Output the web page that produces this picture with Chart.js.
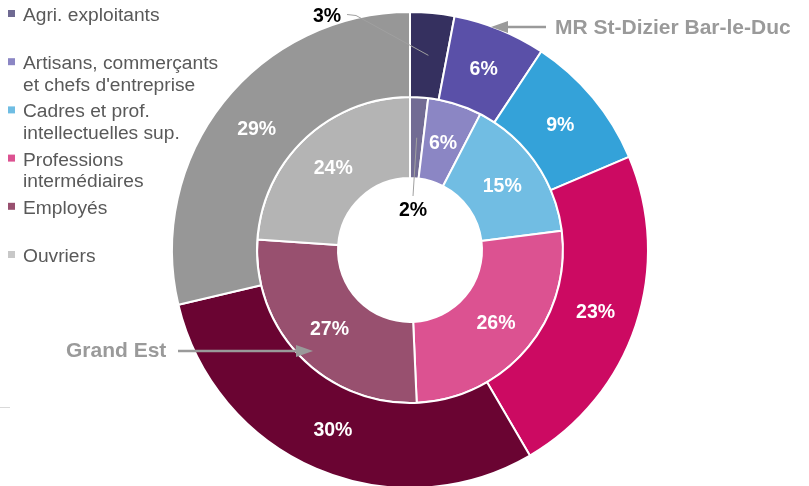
<!DOCTYPE html>
<html>
<head>
<meta charset="utf-8">
<script src="https://cdn.jsdelivr.net/npm/chart.js@4/dist/chart.umd.min.js"></script>
<style>
    html, body { margin: 0; padding: 0; background: #fff; }
    #wrap { position: relative; width: 809px; height: 486px; }
</style>
</head>
<body>
<div id="wrap"><canvas id="pieChart" width="809" height="486"></canvas></div>
<script>
// Data
const categories = [
    'Agri. exploitants',
    'Artisans, commerçants\net chefs d\'entreprise',
    'Cadres et prof.\nintellectuelles sup.',
    'Professions\nintermédiaires',
    'Employés',
    'Ouvriers'
];
const seriesNames = ['MR St-Dizier Bar-le-Duc', 'Grand Est'];
const mrValues = [3.0, 6.3, 9.3, 23.0, 29.7, 28.7];   // outer ring
const geValues = [1.9, 5.7, 15.4, 26.3, 26.8, 23.9];  // inner ring

const mrColors = ['#35305f', '#5a50a8', '#34a2d9', '#cc0a62', '#6a0432', '#979797'];
const geColors = ['#726c94', '#8b86c4', '#71bde3', '#dc5291', '#98506f', '#b4b4b4'];
const legendColors = ['#6f6a92', '#8b86c4', '#6fbde3', '#dc5291', '#98506f', '#c8c8c8'];

const FONT = '"Liberation Sans", Arial, sans-serif';

function arrow(ctx, x1, y, x2, color) {
    // horizontal arrow from x1 to tip x2
    const dir = x2 > x1 ? 1 : -1;
    ctx.strokeStyle = color;
    ctx.fillStyle = color;
    ctx.lineWidth = 2.5;
    ctx.beginPath();
    ctx.moveTo(x1, y);
    ctx.lineTo(x2 - dir * 14, y);
    ctx.stroke();
    ctx.beginPath();
    ctx.moveTo(x2, y);
    ctx.lineTo(x2 - dir * 17, y - 6);
    ctx.lineTo(x2 - dir * 17, y + 6);
    ctx.closePath();
    ctx.fill();
}

// Slice labels, legend and series annotations
const decorPlugin = {
    id: 'decor',
    afterDraw(chart) {
        const ctx = chart.ctx;
        ctx.save();
        ctx.font = 'bold 19.5px ' + FONT;
        ctx.textAlign = 'center';
        ctx.textBaseline = 'middle';

        chart.data.datasets.forEach((ds, di) => {
            const meta = chart.getDatasetMeta(di);
            meta.data.forEach((arc, i) => {
                const v = ds.data[i];
                const txt = Math.round(v) + '%';
                const p = arc.getCenterPoint();
                if (v < 4) {
                    // small slice: label outside with a leader line
                    ctx.strokeStyle = '#a0a0a0';
                    ctx.lineWidth = 1;
                    ctx.fillStyle = '#000';
                    ctx.beginPath();
                    if (di === 0) {
                        ctx.moveTo(347, 14.5);
                        ctx.lineTo(356, 15.5);
                        ctx.lineTo(p.x, p.y);
                        ctx.stroke();
                        ctx.fillText(txt, 327, 17);
                    } else {
                        ctx.moveTo(p.x, p.y);
                        ctx.lineTo(413, 196);
                        ctx.stroke();
                        ctx.fillText(txt, 413, 211);
                    }
                } else {
                    ctx.fillStyle = '#fff';
                    ctx.fillText(txt, p.x, p.y + 1);
                }
            });
        });

        // legend
        ctx.textAlign = 'left';
        ctx.textBaseline = 'alphabetic';
        ctx.font = '19.2px ' + FONT;
        categories.forEach((c, i) => {
            const base = 21 + i * 48.2;
            ctx.fillStyle = legendColors[i];
            ctx.fillRect(8, base - 11, 7, 7);
            ctx.fillStyle = '#595959';
            c.split('\n').forEach((line, li) => {
                ctx.fillText(line, 23, base + li * 21.7);
            });
        });

        // series names with arrows
        ctx.font = 'bold 21px ' + FONT;
        ctx.fillStyle = '#9a9a9a';
        ctx.textBaseline = 'middle';
        ctx.fillText(seriesNames[0], 555, 28);
        arrow(ctx, 546, 27, 491, '#9a9a9a');
        ctx.fillText(seriesNames[1], 66, 351);
        arrow(ctx, 178, 351, 313, '#9a9a9a');

        // small stray tick at bottom left
        ctx.strokeStyle = '#d9d9d9';
        ctx.lineWidth = 1;
        ctx.beginPath();
        ctx.moveTo(0, 407.5);
        ctx.lineTo(10, 407.5);
        ctx.stroke();
        ctx.restore();
    }
};

const chart = new Chart(document.getElementById('pieChart'), {
    type: 'doughnut',
    data: {
        labels: categories,
        datasets: [
            {
                label: seriesNames[0],
                data: mrValues,
                backgroundColor: mrColors,
                borderColor: '#fff',
                borderWidth: 2,
                weight: 85
            },
            {
                label: seriesNames[1],
                data: geValues,
                backgroundColor: geColors,
                borderColor: '#fff',
                borderWidth: 2,
                weight: 81
            }
        ]
    },
    options: {
        responsive: false,
        animation: false,
        radius: 238,
        cutout: '30.25%',
        layout: { padding: { left: 11, right: 0, top: 14, bottom: 0 } },
        plugins: {
            legend: { display: false },
            tooltip: { enabled: false }
        }
    },
    plugins: [decorPlugin]
});
</script>
</body>
</html>
